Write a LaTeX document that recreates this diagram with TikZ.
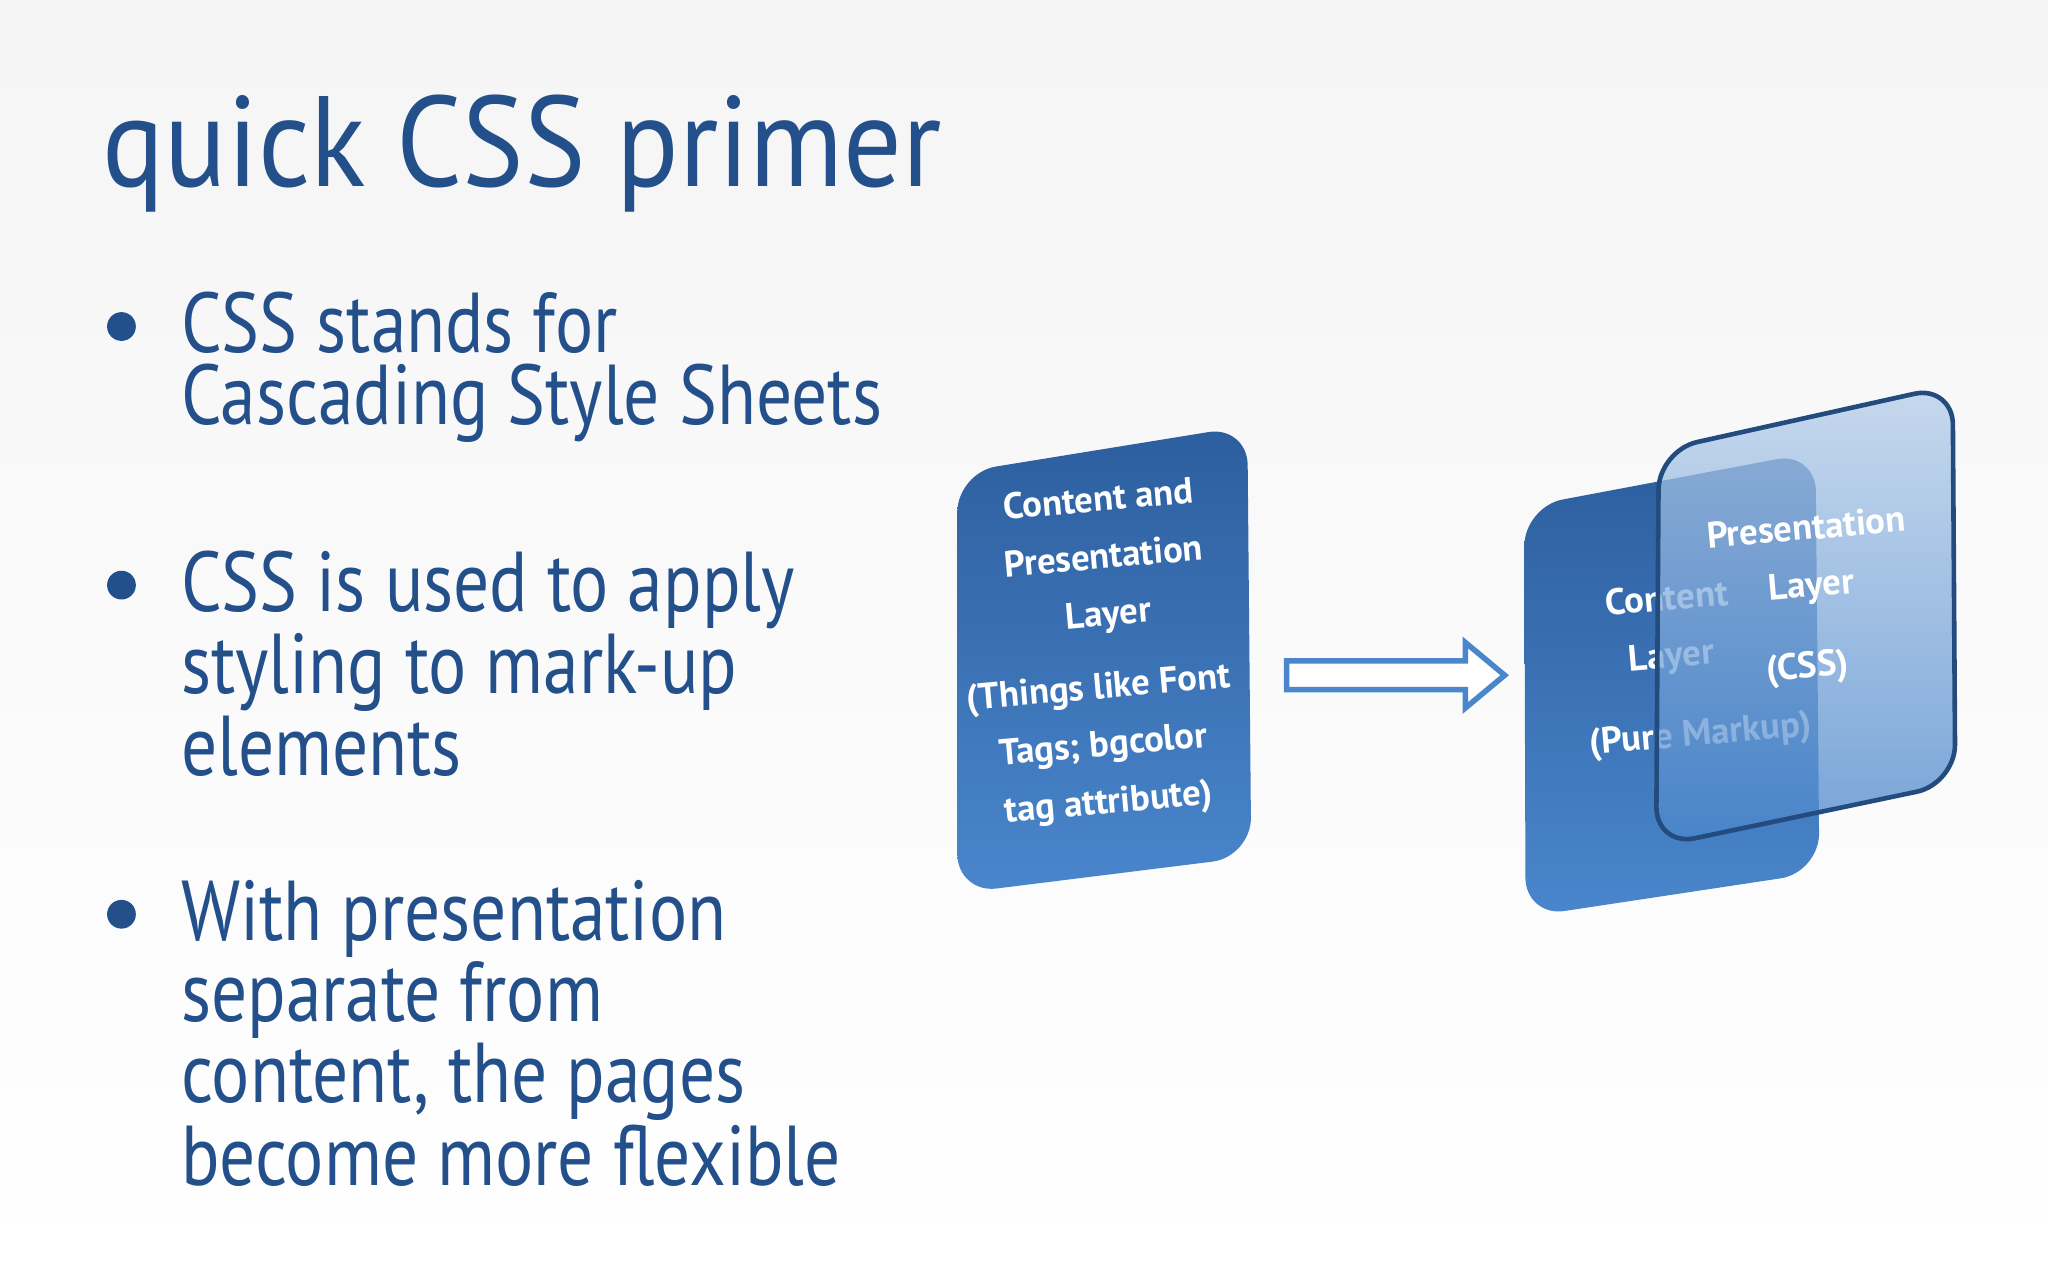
\documentclass[tikz,border=0pt]{standalone}
\usepackage{fontspec}
\setmainfont{PT Sans}
\usetikzlibrary{shadings}
\definecolor{tblue}{HTML}{234F8A}
\definecolor{cdark}{HTML}{2C5E9E}
\definecolor{clight}{HTML}{4A86CC}
\begin{document}
\begin{tikzpicture}[x=0.01cm,y=-0.01cm,
  bul/.style={anchor=north west,align=left,text=tblue,font=\addfontfeatures{FakeStretch=0.84}\fontsize{18.5}{15.6}\selectfont,inner sep=0},
  dot/.style={circle,fill=tblue,inner sep=0,minimum size=0.22cm},
  ctext/.style={text=white,font=\bfseries\fontsize{8}{12.5}\selectfont,align=center,rotate=5}]
\shade[top color=white!92!gray,bottom color=white] (0,0) rectangle (1568,980);
\useasboundingbox (0,0) rectangle (1568,980);
\node[anchor=base west,text=tblue,font=\addfontfeatures{FakeStretch=0.9}\fontsize{28}{30}\selectfont,inner sep=0] (title) at (78,143) {quick CSS primer};
\node[dot] (d1) at (93,250) {};
\node[bul] (b1) at (138,223) {CSS stands for\\Cascading Style Sheets};
\node[dot] (d2) at (93,448) {};
\node[bul] (b2) at (138,421) {CSS is used to apply\\styling to mark-up\\elements};
\node[dot] (d3) at (93,700) {};
\node[bul] (b3) at (138,673) {With presentation\\separate from\\content, the pages\\become more flexible};
% left card
\shade[top color=cdark,bottom color=clight,rounded corners=0.3cm] (733,362)--(955,326)--(958,656)--(733,684)--cycle;
\node[ctext] (c1) at (845,428) {Content and\\Presentation\\Layer};
\node[ctext] (c2) at (845,572) {(Things like Font\\Tags; bgcolor\\tag attribute)};
% arrow
\coordinate (as) at (985,517);
\coordinate (ae) at (1152,517);
\draw[draw=clight,fill=white,line width=1.2pt] (985,506)--(1122,506)--(1122,492)--(1152,517)--(1122,542)--(1122,528)--(985,528)--cycle;
% right front card
\shade[top color=cdark,bottom color=clight,rounded corners=0.3cm] (1167,388)--(1390,346)--(1393,668)--(1168,702)--cycle;
\node[ctext] (f1) at (1278,482) {Content\\Layer};
\node[ctext,anchor=west] (f2) at (1205,572) {(Pure Markup)};
% right back card
\shade[top color=white!60!clight,bottom color=clight,opacity=0.75,rounded corners=0.3cm] (1270,345)--(1495,295)--(1497,600)--(1268,648)--cycle;
\draw[cdark!80!black,line width=1pt,rounded corners=0.3cm] (1270,345)--(1495,295)--(1497,600)--(1268,648)--cycle;
\node[ctext] (p1) at (1385,428) {Presentation\\Layer};
\node[ctext] (p2) at (1384,512) {(CSS)};
\end{tikzpicture}
\end{document}
